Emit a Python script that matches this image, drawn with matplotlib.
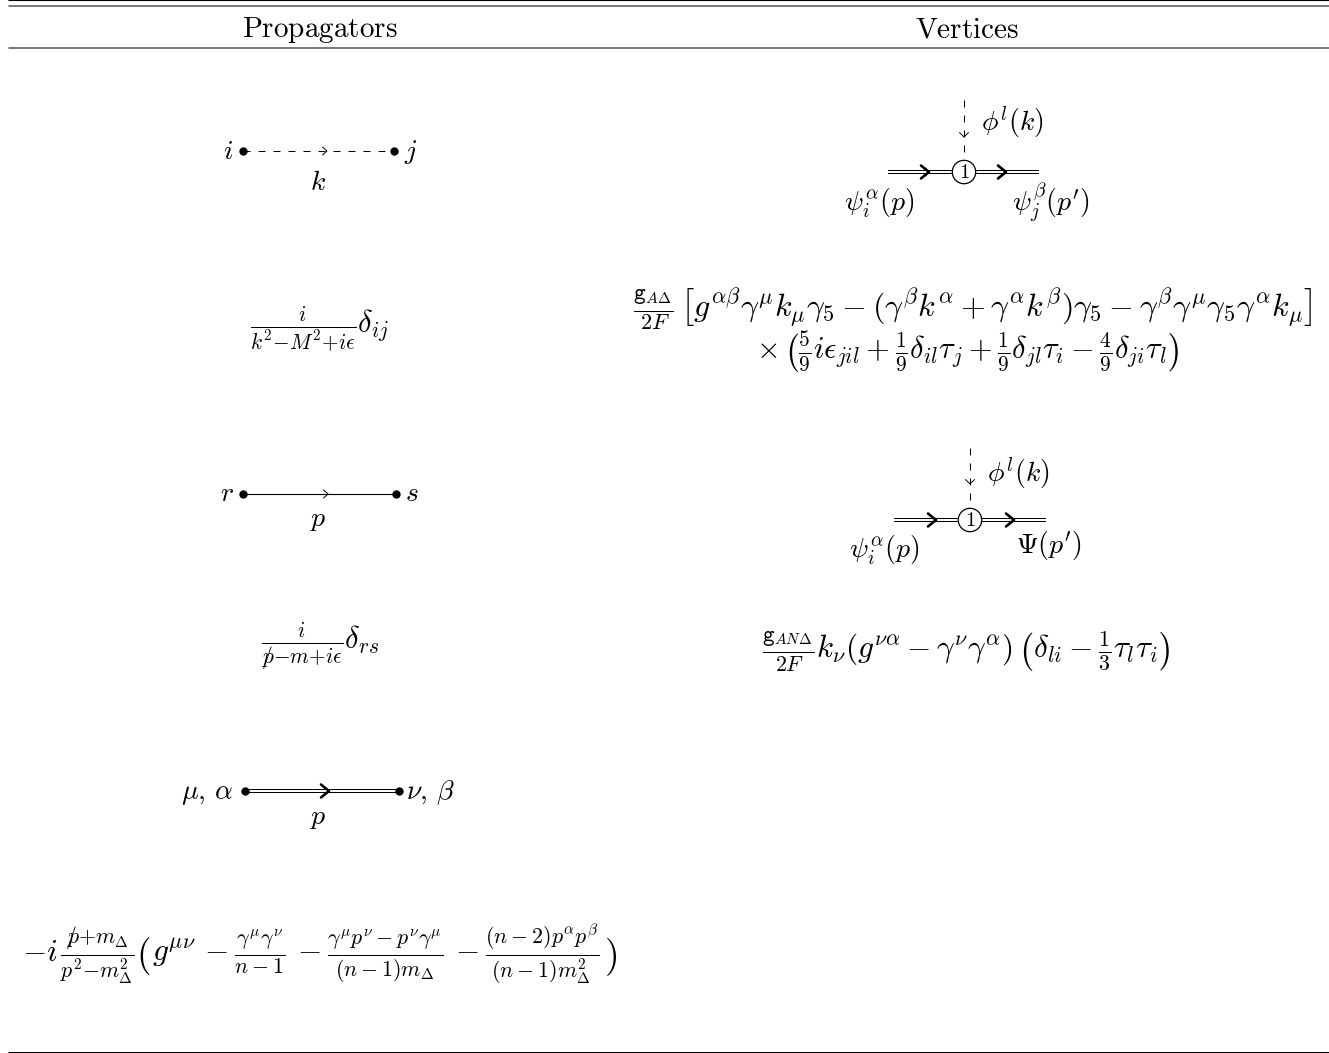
import matplotlib
matplotlib.use('Agg')
import matplotlib.pyplot as plt
from matplotlib.patches import Circle

plt.rcParams['mathtext.fontset'] = 'cm'

W, H = 1329, 1053
FS = 20

headers = [r'$\mathrm{Propagators}$', r'$\mathrm{Vertices}$']
header_x = [320, 967]

# filas de la tabla: texto, x centro, y linea base
prop_labels = [r'$i$', r'$j$', r'$k$', r'$r$', r'$s$', r'$p$', r'$\mu,\,\alpha$', r'$\nu,\,\beta$', r'$p$']
prop_label_x = [228, 411, 318, 227, 412, 318, 207, 430, 318]
prop_label_y = [159, 159, 190, 501, 501, 526, 799, 799, 824]

prop_formulas = [
    r'$\frac{i}{k^2{-}M^2{+}i\epsilon}\delta_{ij}$',
    r'$\frac{i}{/\!\!\!p{-}m{+}i\epsilon}\delta_{rs}$',
]
prop_formula_x = [320, 320]
prop_formula_y = [333, 650]

# ultima fila, por trozos para que el parentesis no crezca
last_pieces = [
    r'$-i$',
    r'$\frac{/\!\!\!p{+}m_\Delta}{p^2{-}m_\Delta^2}$',
    r'$g^{\mu\nu}\,-\frac{\gamma^\mu\gamma^\nu}{n-1}\,-\frac{\gamma^\mu p^\nu-p^\nu\gamma^\mu}{(n-1)m_\Delta}'
    r'\,-\frac{(n-2)p^\alpha p^\beta}{(n-1)m_\Delta^2}$',
]
last_x = [22, 60, 152]
last_paren_x = [143, 611]

vert_labels = [r'$\phi^l(k)$', r'$\psi_i^\alpha(p)$', r"$\psi_j^\beta(p')$",
               r'$\phi^l(k)$', r'$\psi_i^\alpha(p)$', r"$\Psi(p')$"]
vert_label_x = [1012, 879, 1051, 1018, 884, 1049]
vert_label_y = [131, 211, 211, 482, 558, 553]

vert_formulas = [
    r'$\frac{\mathtt{g}_{A\Delta}}{2F}\,\left[g^{\alpha\beta}\gamma^\mu k_\mu\gamma_5-(\gamma^\beta k^\alpha+\gamma^\alpha k^\beta)\gamma_5'
    r'-\gamma^\beta\gamma^\mu\gamma_5\gamma^\alpha k_\mu\right]$',
    r'$\times\,\left(\frac{5}{9}i\epsilon_{jil}+\frac{1}{9}\delta_{il}\tau_j+\frac{1}{9}\delta_{jl}\tau_i-\frac{4}{9}\delta_{ji}\tau_l\right)$',
    r'$\frac{\mathtt{g}_{AN\Delta}}{2F}k_\nu(g^{\nu\alpha}-\gamma^\nu\gamma^\alpha)\,\left(\delta_{li}-\frac{1}{3}\tau_l\tau_i\right)$',
]
vert_formula_x = [973, 968, 966]
vert_formula_y = [317, 359, 658]
vert_formula_fs = [23, 22, 22.5]

# propagadores: x0, x1, y, x flecha
prop_x0 = [243, 243, 245]
prop_x1 = [394, 396, 399]
prop_y = [151, 494, 791]
prop_arrow = [327, 328, 329]

# vertices: x0, x1, y, x circulo, y arriba, flechas
vert_x0 = [888, 894]
vert_x1 = [1039, 1046]
vert_y = [172, 520]
vert_cx = [964, 970]
vert_top = [100, 448]
vert_small = [137, 484]
vert_arrows = [[929, 1006], [936, 1014]]

DASH = (0, (6.7, 7.7))


def chevron(ax, x, y, dx, dy, lw, down=False):
    if down:
        ax.plot([x - dy, x, x + dy], [y - dx, y, y - dx], color='k', lw=lw, solid_capstyle='round', zorder=4)
    else:
        ax.plot([x - dx, x, x - dx], [y - dy, y, y + dy], color='k', lw=lw, solid_capstyle='round', zorder=4)


def double_line(ax, x0, x1, y):
    ax.plot([x0, x1], [y - 1.5, y - 1.5], color='k', lw=0.75, solid_capstyle='butt', snap=False)
    ax.plot([x0, x1], [y + 1.5, y + 1.5], color='k', lw=0.75, solid_capstyle='butt', snap=False)


fig = plt.figure(figsize=(W / 100, H / 100), dpi=100)
ax = fig.add_axes([0, 0, 1, 1])
ax.set_xlim(0, W)
ax.set_ylim(H, 0)
ax.axis('off')

# reglas de la tabla
ax.plot([9, W], [0.5, 0.5], color='k', lw=0.8, snap=False)
for y in [6, 48, 1052.5]:
    ax.plot([9, W], [y, y], color='k', lw=0.75, snap=False)

for s, x in zip(headers, header_x):
    ax.text(x, 37, s, fontsize=21, ha='center', va='baseline')

for s, x, y in zip(prop_labels, prop_label_x, prop_label_y):
    ax.text(x, y, s, fontsize=FS, ha='center', va='baseline')
for s, x, y in zip(prop_formulas, prop_formula_x, prop_formula_y):
    ax.text(x, y, s, fontsize=22, ha='center', va='baseline')
for s, x in zip(last_pieces, last_x):
    ax.text(x, 961, s, fontsize=22.5, ha='left', va='baseline')
for s, x in zip(['$($', '$)$'], last_paren_x):
    ax.text(x, 966, s, fontsize=27, ha='center', va='baseline')

for s, x, y in zip(vert_labels, vert_label_x, vert_label_y):
    ax.text(x, y, s, fontsize=FS, ha='center', va='baseline')
for s, x, y, fs in zip(vert_formulas, vert_formula_x, vert_formula_y, vert_formula_fs):
    ax.text(x, y, s, fontsize=fs, ha='center', va='baseline')

# propagadores
ax.plot([prop_x0[0], prop_x1[0]], [prop_y[0], prop_y[0]], color='k', lw=0.75, ls=DASH)
chevron(ax, prop_arrow[0], prop_y[0], 4.5, 4, 0.7)
ax.plot([prop_x0[1], prop_x1[1]], [prop_y[1], prop_y[1]], color='k', lw=0.8)
chevron(ax, prop_arrow[1], prop_y[1], 4.5, 4, 0.7)
double_line(ax, prop_x0[2], prop_x1[2], prop_y[2])
chevron(ax, prop_arrow[2], prop_y[2], 8, 6.5, 1.9)
for x0, x1, y in zip(prop_x0, prop_x1, prop_y):
    ax.plot([x0, x1], [y, y], 'o', color='k', ms=6, mew=0, ls='none', zorder=5)

# vertices
for i in range(2):
    ax.plot([vert_cx[i], vert_cx[i]], [vert_top[i], vert_y[i]], color='k', lw=0.75, ls=DASH)
    chevron(ax, vert_cx[i], vert_small[i], 4.5, 4.5, 0.7, down=True)
    double_line(ax, vert_x0[i], vert_x1[i], vert_y[i])
    for xa in vert_arrows[i]:
        chevron(ax, xa, vert_y[i], 8, 6.5, 1.9)
    ax.add_patch(Circle((vert_cx[i], vert_y[i]), 11.7, fc='w', ec='k', lw=0.9, zorder=5))
    ax.text(vert_cx[i], vert_y[i] + 6.5, r'$1$', fontsize=15, ha='center', va='baseline', zorder=6)

fig.savefig('out.png', dpi=100)
